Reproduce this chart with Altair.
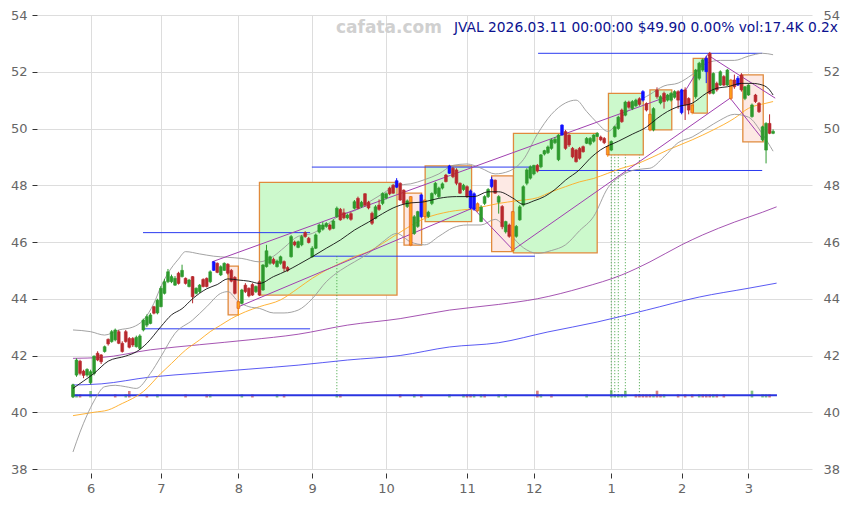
import altair as alt
import pandas as pd

# ---------------- candles (trading-day index 0..199, 2025-05-23 .. 2026-03-11)
opens = [40.55,41.31,41.80,41.45,41.31,41.04,41.37,42.08,42.02,42.14,
         42.57,42.49,42.55,42.84,42.43,42.84,42.60,42.60,42.31,42.25,
         42.90,43.07,43.13,43.72,43.50,43.72,44.19,44.60,44.60,44.48,
         44.90,44.78,44.72,44.43,44.78,44.19,44.25,44.68,44.72,44.60,
         45.00,45.25,44.84,45.00,45.22,45.00,44.75,43.90,43.84,44.48,
         44.37,44.50,44.25,44.60,44.31,45.13,45.25,45.39,45.13,45.25,
         45.31,45.10,45.48,46.00,45.81,45.90,46.33,46.13,45.48,45.78,
         46.35,46.45,46.55,46.60,46.48,46.89,47.15,47.03,46.85,47.00,
         47.19,47.54,47.25,47.70,47.40,47.01,46.83,47.30,47.36,47.55,
         47.90,48.00,47.93,48.07,47.83,47.25,47.60,46.30,46.55,46.89,
         47.48,46.90,47.36,47.71,47.60,47.90,48.36,48.42,48.60,48.54,
         48.07,47.85,47.95,47.80,47.70,47.35,46.72,47.36,47.60,47.95,
         48.18,47.40,47.25,46.36,46.60,47.07,46.20,46.78,47.30,48.07,
         48.25,48.40,48.70,48.65,49.10,49.15,49.30,49.50,48.90,49.77,
         49.89,49.77,49.30,49.24,49.30,49.36,49.48,49.45,49.55,49.72,
         49.70,49.65,49.36,49.24,49.71,50.00,50.65,50.47,50.93,50.70,
         50.80,51.05,51.00,50.88,50.50,49.95,51.35,50.90,51.24,51.00,
         51.00,51.10,51.30,50.56,51.36,51.06,50.83,51.12,51.77,52.06,
         52.00,52.65,51.24,51.59,51.53,51.83,51.53,51.71,51.71,51.77,
         51.89,51.06,51.18,50.42,51.18,50.89,49.60,49.24,50.18,49.83]
closes = [40.96,41.84,41.37,41.30,41.51,41.43,41.98,41.84,41.78,42.31,
          42.41,42.84,42.90,42.43,42.14,42.49,42.29,42.37,42.64,42.69,
          43.25,43.37,43.43,43.49,43.95,44.37,44.60,44.95,44.78,44.72,
          44.54,45.00,44.54,44.66,44.07,44.37,44.48,44.43,44.43,44.95,
          45.30,44.93,45.13,45.25,44.90,44.62,44.19,43.66,44.31,44.25,
          44.10,44.13,44.43,44.13,45.19,45.69,45.48,45.25,45.33,45.48,
          45.07,45.00,46.19,45.90,46.01,46.19,46.19,45.98,45.78,46.25,
          46.60,46.60,46.65,46.45,46.74,47.19,46.78,46.85,46.95,46.80,
          47.42,47.19,47.40,47.30,47.20,46.66,47.24,47.15,47.71,47.70,
          47.70,47.72,48.16,47.48,47.36,47.45,45.89,46.89,47.07,47.66,
          46.89,47.05,47.71,48.07,47.90,48.05,48.13,48.68,48.30,48.07,
          47.72,48.00,47.60,47.20,47.15,47.10,47.23,47.60,47.85,48.20,
          47.72,47.60,46.54,46.72,46.20,45.70,46.55,47.24,47.95,48.54,
          48.65,48.70,48.50,49.07,49.22,49.35,49.60,49.62,49.77,50.12,
          49.30,49.42,49.00,48.83,48.95,49.18,49.65,49.65,49.77,49.83,
          49.60,49.50,49.07,49.54,50.06,50.40,50.24,50.93,50.75,50.95,
          51.00,50.85,51.30,50.65,49.95,50.70,51.12,51.12,50.95,51.18,
          51.24,51.30,51.00,51.36,50.83,50.65,50.56,52.06,52.30,52.42,
          52.47,51.24,51.94,51.36,52.00,51.53,52.06,51.06,51.47,51.53,
          51.36,51.47,51.53,50.83,50.95,50.59,50.06,50.18,49.83,49.90]
highs = [41.00,41.90,41.85,41.50,41.55,41.50,42.00,42.15,42.05,42.35,
         42.60,42.90,42.95,42.90,42.50,42.90,42.65,42.65,42.70,42.75,
         43.30,43.45,43.50,43.75,44.00,44.45,44.70,45.05,44.85,44.80,
         44.95,45.20,44.75,44.70,44.80,44.40,44.52,44.72,44.75,45.00,
         45.33,45.28,45.18,45.28,45.25,45.05,44.80,43.92,44.35,44.55,
         44.40,44.55,44.47,44.65,45.22,45.90,45.52,45.45,45.38,45.52,
         45.35,45.15,46.25,46.05,46.05,46.25,46.38,46.18,45.85,46.30,
         46.65,46.70,46.70,46.65,46.80,47.25,47.20,47.18,47.00,47.05,
         47.48,47.60,47.45,47.72,47.45,47.07,47.30,47.50,47.75,47.75,
         47.95,48.05,48.25,48.10,47.85,47.50,47.62,46.95,47.10,47.70,
         47.50,47.10,47.75,48.12,47.95,48.10,48.40,48.72,48.65,48.60,
         48.10,48.05,48.00,47.85,47.75,47.40,47.30,47.65,47.90,48.30,
         48.20,47.65,47.30,46.75,46.65,47.10,46.60,47.30,48.00,48.60,
         48.70,48.72,48.75,49.10,49.25,49.40,49.65,49.70,49.80,50.15,
         49.95,49.80,49.35,49.28,49.35,49.40,49.70,49.70,49.80,49.87,
         49.75,49.70,49.40,49.58,50.10,50.45,50.70,50.98,50.98,51.00,
         51.05,51.10,51.35,50.92,50.55,50.75,51.45,51.17,51.30,51.22,
         51.28,51.35,51.35,51.40,51.45,51.10,50.88,52.10,52.35,52.47,
         52.55,52.70,51.98,51.65,52.05,51.88,52.10,51.75,51.90,51.85,
         51.95,51.50,51.56,50.88,51.22,50.93,50.10,50.22,50.50,49.97]
lows = [40.50,41.25,41.30,41.20,41.25,40.98,41.30,41.80,41.70,42.10,
        42.35,42.45,42.50,42.40,42.10,42.45,42.25,42.30,42.28,42.20,
        42.85,43.00,43.10,43.45,43.45,43.70,44.15,44.55,44.55,44.45,
        44.50,44.75,44.50,44.40,43.84,44.15,44.20,44.40,44.40,44.55,
        44.98,44.90,44.80,44.98,44.85,44.58,44.15,43.40,43.80,44.20,
        44.05,44.10,44.20,44.10,44.28,45.10,45.20,45.20,45.10,45.20,
        44.95,44.95,45.45,45.85,45.78,45.85,46.15,45.95,45.45,45.75,
        46.30,46.40,46.50,46.40,46.45,46.85,46.75,46.80,46.80,46.75,
        47.15,47.15,47.20,47.25,47.15,46.60,46.80,47.10,47.30,47.50,
        47.65,47.70,47.90,47.45,47.30,47.20,45.85,46.25,46.50,46.85,
        46.85,46.85,47.30,47.65,47.55,47.85,48.10,48.40,48.25,48.00,
        47.70,47.80,47.55,47.15,47.10,47.05,46.70,47.30,47.55,47.90,
        47.70,47.00,46.45,46.30,46.15,45.66,46.15,46.75,47.25,48.00,
        48.20,48.35,48.45,48.60,49.05,49.10,49.25,49.45,48.85,49.75,
        49.25,49.35,48.95,48.80,48.90,49.15,49.45,49.40,49.50,49.70,
        49.55,49.45,49.00,49.20,49.68,49.95,50.20,50.43,50.70,50.65,
        50.75,50.80,50.95,50.60,49.90,49.90,51.05,50.85,50.70,50.95,
        50.95,51.05,50.70,50.50,50.30,50.50,50.50,51.05,51.70,52.00,
        51.60,51.20,51.20,51.30,51.50,51.50,51.50,51.00,51.40,51.50,
        51.30,51.00,51.15,50.38,50.90,50.55,49.55,48.77,49.80,49.80]
# highlighted signal candles
blue_sig = [40, 92, 99, 107, 113, 114, 119, 139, 162, 173, 180, 189]
orange_sig = [47, 96, 100, 115, 125, 152, 164, 176, 187]

# ---------------- x-axis month labels
month_idx = [5, 25, 47, 68, 89, 112, 131, 153, 173, 192]
month_labels = ["6", "7", "8", "9", "10", "11", "12", "1", "2", "3"]

# ---------------- indicator lines (index, value)
ma20_i = [0,3,6,10,15,18,21,25,28,31,34,38,41,44,47,50,53,57,61,64,68,72,76,80,84,88,91,95,100,104,109,114,118,121,125,128,131,134,137,140,144,147,150,155,159,163,166,169,172,176,180,183,186,190,193,196,198,199]
ma20_v = [40.84,41.1,41.37,41.8,41.98,42.13,42.43,43.02,43.43,43.65,44.0,44.35,44.5,44.7,44.66,44.62,44.54,44.78,45.0,45.2,45.48,45.78,46.07,46.42,46.7,47.0,47.2,47.36,47.42,47.54,47.6,47.6,47.77,47.77,47.55,47.33,47.45,47.6,47.85,48.18,48.55,48.95,49.25,49.55,49.8,50.05,50.35,50.6,50.77,50.89,51.24,51.42,51.47,51.59,51.59,51.53,51.36,51.18]

ma50_i = [0,6,10,14,17,20,25,28,32,36,39,42,45,49,53,59,64,68,72,76,80,84,88,95,100,107,114,121,126,132,136,140,144,148,152,156,160,164,169,176,182,188,192,197,199]
ma50_v = [39.88,40.0,40.08,40.31,40.49,40.73,41.37,41.72,42.19,42.55,42.84,43.07,43.3,43.54,43.72,43.96,44.37,44.72,45.01,45.25,45.48,45.66,45.95,46.5,46.83,47.07,47.18,47.36,47.45,47.56,47.77,47.95,48.12,48.24,48.42,48.6,48.74,48.95,49.24,49.6,49.95,50.36,50.71,50.89,50.95]

ma100_i = [0,8,22,36,50,64,78,93,107,121,132,145,156,164,173,179,188,196,200]
ma100_v = [41.9,41.93,42.2,42.38,42.55,42.75,43.07,43.3,43.6,43.8,44.0,44.4,44.84,45.3,45.9,46.25,46.7,47.05,47.24]

ma200_i = [0,8,22,36,50,64,78,93,107,121,135,149,163,178,192,200]
ma200_v = [40.96,41.0,41.24,41.38,41.52,41.66,41.84,42.0,42.3,42.45,42.83,43.18,43.6,44.06,44.37,44.55]

bbu_i = [0,5,9,13,17,20,23,25,27,30,32,36,40,44,48,53,57,60,64,68,72,76,80,84,88,92,96,100,104,108,112,116,120,124,128,132,136,140,143,146,149,152,156,160,164,168,172,176,180,184,188,192,196,199]
bbu_v = [42.9,42.84,42.72,42.9,43.0,43.25,43.84,44.43,44.9,45.4,45.66,45.58,45.5,45.46,45.42,45.3,45.5,45.8,46.2,46.3,46.6,46.95,47.1,47.4,47.7,48.0,48.05,48.2,48.4,48.7,48.75,48.6,48.4,48.5,48.9,49.8,50.5,50.9,51.0,50.6,50.2,49.9,50.4,50.9,51.2,51.5,51.6,51.9,52.3,52.4,52.4,52.55,52.65,52.6]
bbl_i = [0,2,4,6,9,12,15,18,22,25,29,34,38,42,44,47,50,53,57,60,64,68,72,76,80,84,88,92,96,100,104,108,112,116,120,124,128,132,136,140,144,148,152,156,160,164,168,172,176,180,184,188,192,196,199]
bbl_v = [38.6,39.3,39.9,40.4,40.9,40.95,40.9,40.84,41.37,41.96,42.78,43.25,43.72,44.19,44.25,43.9,43.72,43.66,43.5,43.5,43.6,44.0,44.6,45.0,45.3,45.6,46.0,46.3,46.0,45.9,46.2,46.5,46.6,46.6,46.8,46.3,45.8,45.6,45.7,45.9,46.4,46.9,47.9,48.35,48.55,48.6,49.0,49.5,49.7,50.0,50.3,50.5,50.4,49.8,49.2]

# ---------------- zones (x0, x1 index; y0, y1 price; kind)
box_x0 = [44.1, 53.0, 94.1, 100.1, 119.0, 125.2, 152.2, 164.0, 176.3, 190.4]
box_x1 = [47.0, 92.1, 99.1, 113.3, 125.2, 149.0, 162.1, 170.2, 180.3, 196.2]
box_y0 = [43.43, 44.13, 45.89, 46.72, 45.66, 45.62, 49.07, 49.95, 50.54, 49.53]
box_y1 = [45.15, 48.10, 47.72, 48.68, 48.33, 49.83, 51.24, 51.36, 52.47, 51.89]
box_kind = ["down", "up", "down", "up", "down", "up", "up", "up", "up", "down"]

# ---------------- levels
lvl_x0 = [19.9, 19.9, 67.9, 67.9, 132.2, 132.2]
lvl_x1 = [67.4, 67.4, 131.3, 131.3, 195.9, 195.9]
lvl_y = [46.33, 42.94, 45.50, 48.64, 52.65, 48.52]

# ---------------- trend lines
tr_x0 = [39.5, 46.9, 113.7, 125.1, 174.2, 180.3, 186.8]
tr_y0 = [45.30, 43.71, 47.20, 45.72, 51.36, 52.60, 51.07]
tr_x1 = [174.2, 113.7, 125.1, 186.8, 180.3, 199.6, 196.2]
tr_y1 = [51.36, 47.20, 45.72, 51.07, 52.60, 51.07, 49.60]

# ---------------- signal markers (dotted)
sig_i = [75, 153, 154, 155, 157, 161]
sig_top = [45.5, 49.07, 49.07, 49.07, 49.07, 49.07]

# ---------------- volume (index, top, up/down)
vol_i = [0,1,2,5,12,15,16,21,24,32,38,39,48,51,58,60,75,76,93,97,99,107,111,112,113,114,116,117,121,123,132,133,136,146,153,154,155,156,157,160,161,162,163,164,165,166,167,168,172,174,176,178,179,180,181,182,183,185,193,196,197,198]
vol_top = [41.0,40.63,40.63,40.75,40.63,40.63,40.75,40.63,40.63,40.63,40.63,40.63,40.63,40.63,40.63,40.63,40.63,40.63,40.63,40.63,40.63,40.63,40.63,40.63,40.63,40.63,40.63,40.63,40.63,40.63,40.76,40.63,40.63,40.63,40.78,40.63,40.63,40.63,40.76,40.63,40.63,40.63,40.63,40.63,40.63,40.76,40.63,40.63,40.63,40.63,40.63,40.63,40.63,40.63,40.63,40.63,40.63,40.63,40.76,40.63,40.63,40.63]
vol_dir = ["u","u","d","u","d","u","d","d","u","d","d","u","u","d","u","d","u","d","d","u","d","u","u","d","d","u","u","d","u","u","d","u","d","u","u","u","u","u","u","d","d","d","d","d","u","d","d","u","d","d","d","u","d","d","d","u","d","d","u","u","u","d"]

VOL_BASE = 40.52
BASELINE = 40.60

kinds = ["u" if c >= o else "d" for o, c in zip(opens, closes)]
for j in blue_sig:
    kinds[j] = "b"
for j in orange_sig:
    kinds[j] = "o"

candles = pd.DataFrame({"i": list(range(len(closes))), "o": opens, "c": closes,
                        "h": highs, "l": lows, "k": kinds})
X = alt.Scale(domain=[-10.23, 210.06], nice=False, zero=False, padding=0)
Y = alt.Scale(domain=[38, 54], nice=False, zero=False, padding=0)

label_expr = ("[" + ",".join("'%s'" % s for s in month_labels) + "][indexof(["
              + ",".join(str(v) for v in month_idx) + "], datum.value)]")

xaxis = alt.Axis(values=month_idx, labelExpr=label_expr, title=None, grid=True,
                 gridColor="#dddddd", domain=False, offset=4, tickSize=5,
                 tickColor="#333333", labelColor="#666666", labelFontSize=13,
                 labelFont="DejaVu Sans", labelPadding=4)
yaxis = alt.Axis(values=list(range(38, 55, 2)), title=None, grid=True,
                 gridColor="#dddddd", domain=False, tickSize=5, tickColor="#333333",
                 labelColor="#666666", labelFontSize=13, labelFont="DejaVu Sans",
                 labelPadding=5)

kind_scale = alt.Scale(domain=["u", "d", "b", "o"],
                       range=["#2e9a2e", "#b8282d", "#1010ff", "#ff9c1a"])
kind_stroke = alt.Scale(domain=["u", "d", "b", "o"],
                        range=["#2e9a2e", "#b8282d", "#1010ff", "#d2501e"])

axis_df = pd.DataFrame({"i": [month_idx[0]], "v": [46]})
base = alt.Chart(axis_df).mark_point(opacity=0).encode(
    x=alt.X("i:Q", scale=X, axis=xaxis),
    y=alt.Y("v:Q", scale=Y, axis=yaxis))
right_axis = alt.Chart(axis_df).mark_point(opacity=0).encode(
    x=alt.X("i:Q", scale=X, axis=None),
    y=alt.Y("v:Q", scale=Y, axis=alt.Axis(orient="right", values=list(range(38, 55, 2)),
        title=None, grid=False, domain=False, ticks=False, labelColor="#666666",
        labelFontSize=13, labelFont="DejaVu Sans", labelPadding=11)))

boxes = pd.DataFrame({"x0": box_x0, "x1": box_x1, "y0": box_y0, "y1": box_y1, "k": box_kind})
box_layer = alt.Chart(boxes).mark_rect(stroke="#e08a3c", strokeWidth=1.3).encode(
    x=alt.X("x0:Q", scale=X, axis=None), x2="x1:Q",
    y=alt.Y("y0:Q", scale=Y, axis=None), y2="y1:Q",
    fill=alt.Fill("k:N", scale=alt.Scale(domain=["up", "down"], range=["#ccf9cc", "#fde9e4"]), legend=None))

levels = pd.DataFrame({"x0": lvl_x0, "x1": lvl_x1, "y": lvl_y})
lvl_layer = alt.Chart(levels).mark_rule(color="#2b3bf0", strokeWidth=1).encode(
    x=alt.X("x0:Q", scale=X, axis=None), x2="x1:Q", y=alt.Y("y:Q", scale=Y, axis=None))

sig = pd.DataFrame({"i": sig_i, "t": sig_top, "b": [BASELINE] * len(sig_i)})
sig_layer = alt.Chart(sig).mark_rule(color="#3aa03a", strokeWidth=1, strokeDash=[1, 2]).encode(
    x=alt.X("i:Q", scale=X, axis=None), y=alt.Y("b:Q", scale=Y, axis=None), y2="t:Q")

vol = pd.DataFrame({"i": vol_i, "t": vol_top, "k": vol_dir, "b": [VOL_BASE] * len(vol_i)})
vol_layer = alt.Chart(vol).mark_bar(size=2.6, opacity=0.6).encode(
    x=alt.X("i:Q", scale=X, axis=None), y=alt.Y("b:Q", scale=Y, axis=None), y2="t:Q",
    color=alt.Color("k:N", scale=kind_scale, legend=None))

base_df = pd.DataFrame({"x0": [-0.3], "x1": [200.1], "y": [BASELINE]})
base_line = alt.Chart(base_df).mark_rule(color="#2a35e0", strokeWidth=2.2).encode(
    x=alt.X("x0:Q", scale=X, axis=None), x2="x1:Q", y=alt.Y("y:Q", scale=Y, axis=None))


def line(ii, vv, color, width):
    df = pd.DataFrame({"i": ii, "v": vv})
    return alt.Chart(df).mark_line(color=color, strokeWidth=width, interpolate="monotone").encode(
        x=alt.X("i:Q", scale=X, axis=None), y=alt.Y("v:Q", scale=Y, axis=None))


lines = [line(ma200_i, ma200_v, "#3030f0", 0.8), line(ma100_i, ma100_v, "#8e2a9e", 0.8),
         line(ma50_i, ma50_v, "#ffaa22", 0.9), line(bbu_i, bbu_v, "#999999", 0.9),
         line(bbl_i, bbl_v, "#999999", 0.9)]

trend = pd.DataFrame({"x0": tr_x0, "y0": tr_y0, "x1": tr_x1, "y1": tr_y1})
trend_layer = alt.Chart(trend).mark_rule(color="#a040b0", strokeWidth=1).encode(
    x=alt.X("x0:Q", scale=X, axis=None), y=alt.Y("y0:Q", scale=Y, axis=None),
    x2="x1:Q", y2="y1:Q")

wick = alt.Chart(candles).mark_rule(strokeWidth=1).encode(
    x=alt.X("i:Q", scale=X, axis=None), y=alt.Y("l:Q", scale=Y, axis=None), y2="h:Q",
    color=alt.Color("k:N", scale=kind_scale, legend=None))
body = alt.Chart(candles).mark_bar(size=2.8, strokeWidth=0.6).encode(
    x=alt.X("i:Q", scale=X, axis=None), y=alt.Y("o:Q", scale=Y, axis=None), y2="c:Q",
    color=alt.Color("k:N", scale=kind_scale, legend=None),
    stroke=alt.Stroke("k:N", scale=kind_stroke, legend=None))

ma20 = line(ma20_i, ma20_v, "#111111", 0.9)

title_df = pd.DataFrame({"t": ["JVAL 2026.03.11 00:00:00 $49.90 0.00% vol:17.4K 0.2x"]})
title = alt.Chart(title_df).mark_text(align="right", baseline="middle", fontSize=13.8,
                                      font="DejaVu Sans", color="#0c1290").encode(
    text="t:N", x=alt.value(801), y=alt.value(13))
wm_df = pd.DataFrame({"t": ["cafata.com"]})
wm = alt.Chart(wm_df).mark_text(align="center", baseline="middle", fontSize=17,
                                font="DejaVu Sans", fontWeight="bold", color="#d0d0d0").encode(
    text="t:N", x=alt.value(352), y=alt.value(13))

chart = alt.layer(base, right_axis, box_layer, lvl_layer, sig_layer, vol_layer, base_line,
                  *lines, trend_layer, wick, body, ma20, wm, title).resolve_axis(
    x="independent", y="independent").properties(
    width=775, height=454, autosize=alt.AutoSizeParams(type="none"),
    padding={"left": 29, "top": 7, "right": 29, "bottom": 30}).configure_view(stroke=None)

chart.save("out.html", embed_options={"renderer": "svg", "actions": False})
